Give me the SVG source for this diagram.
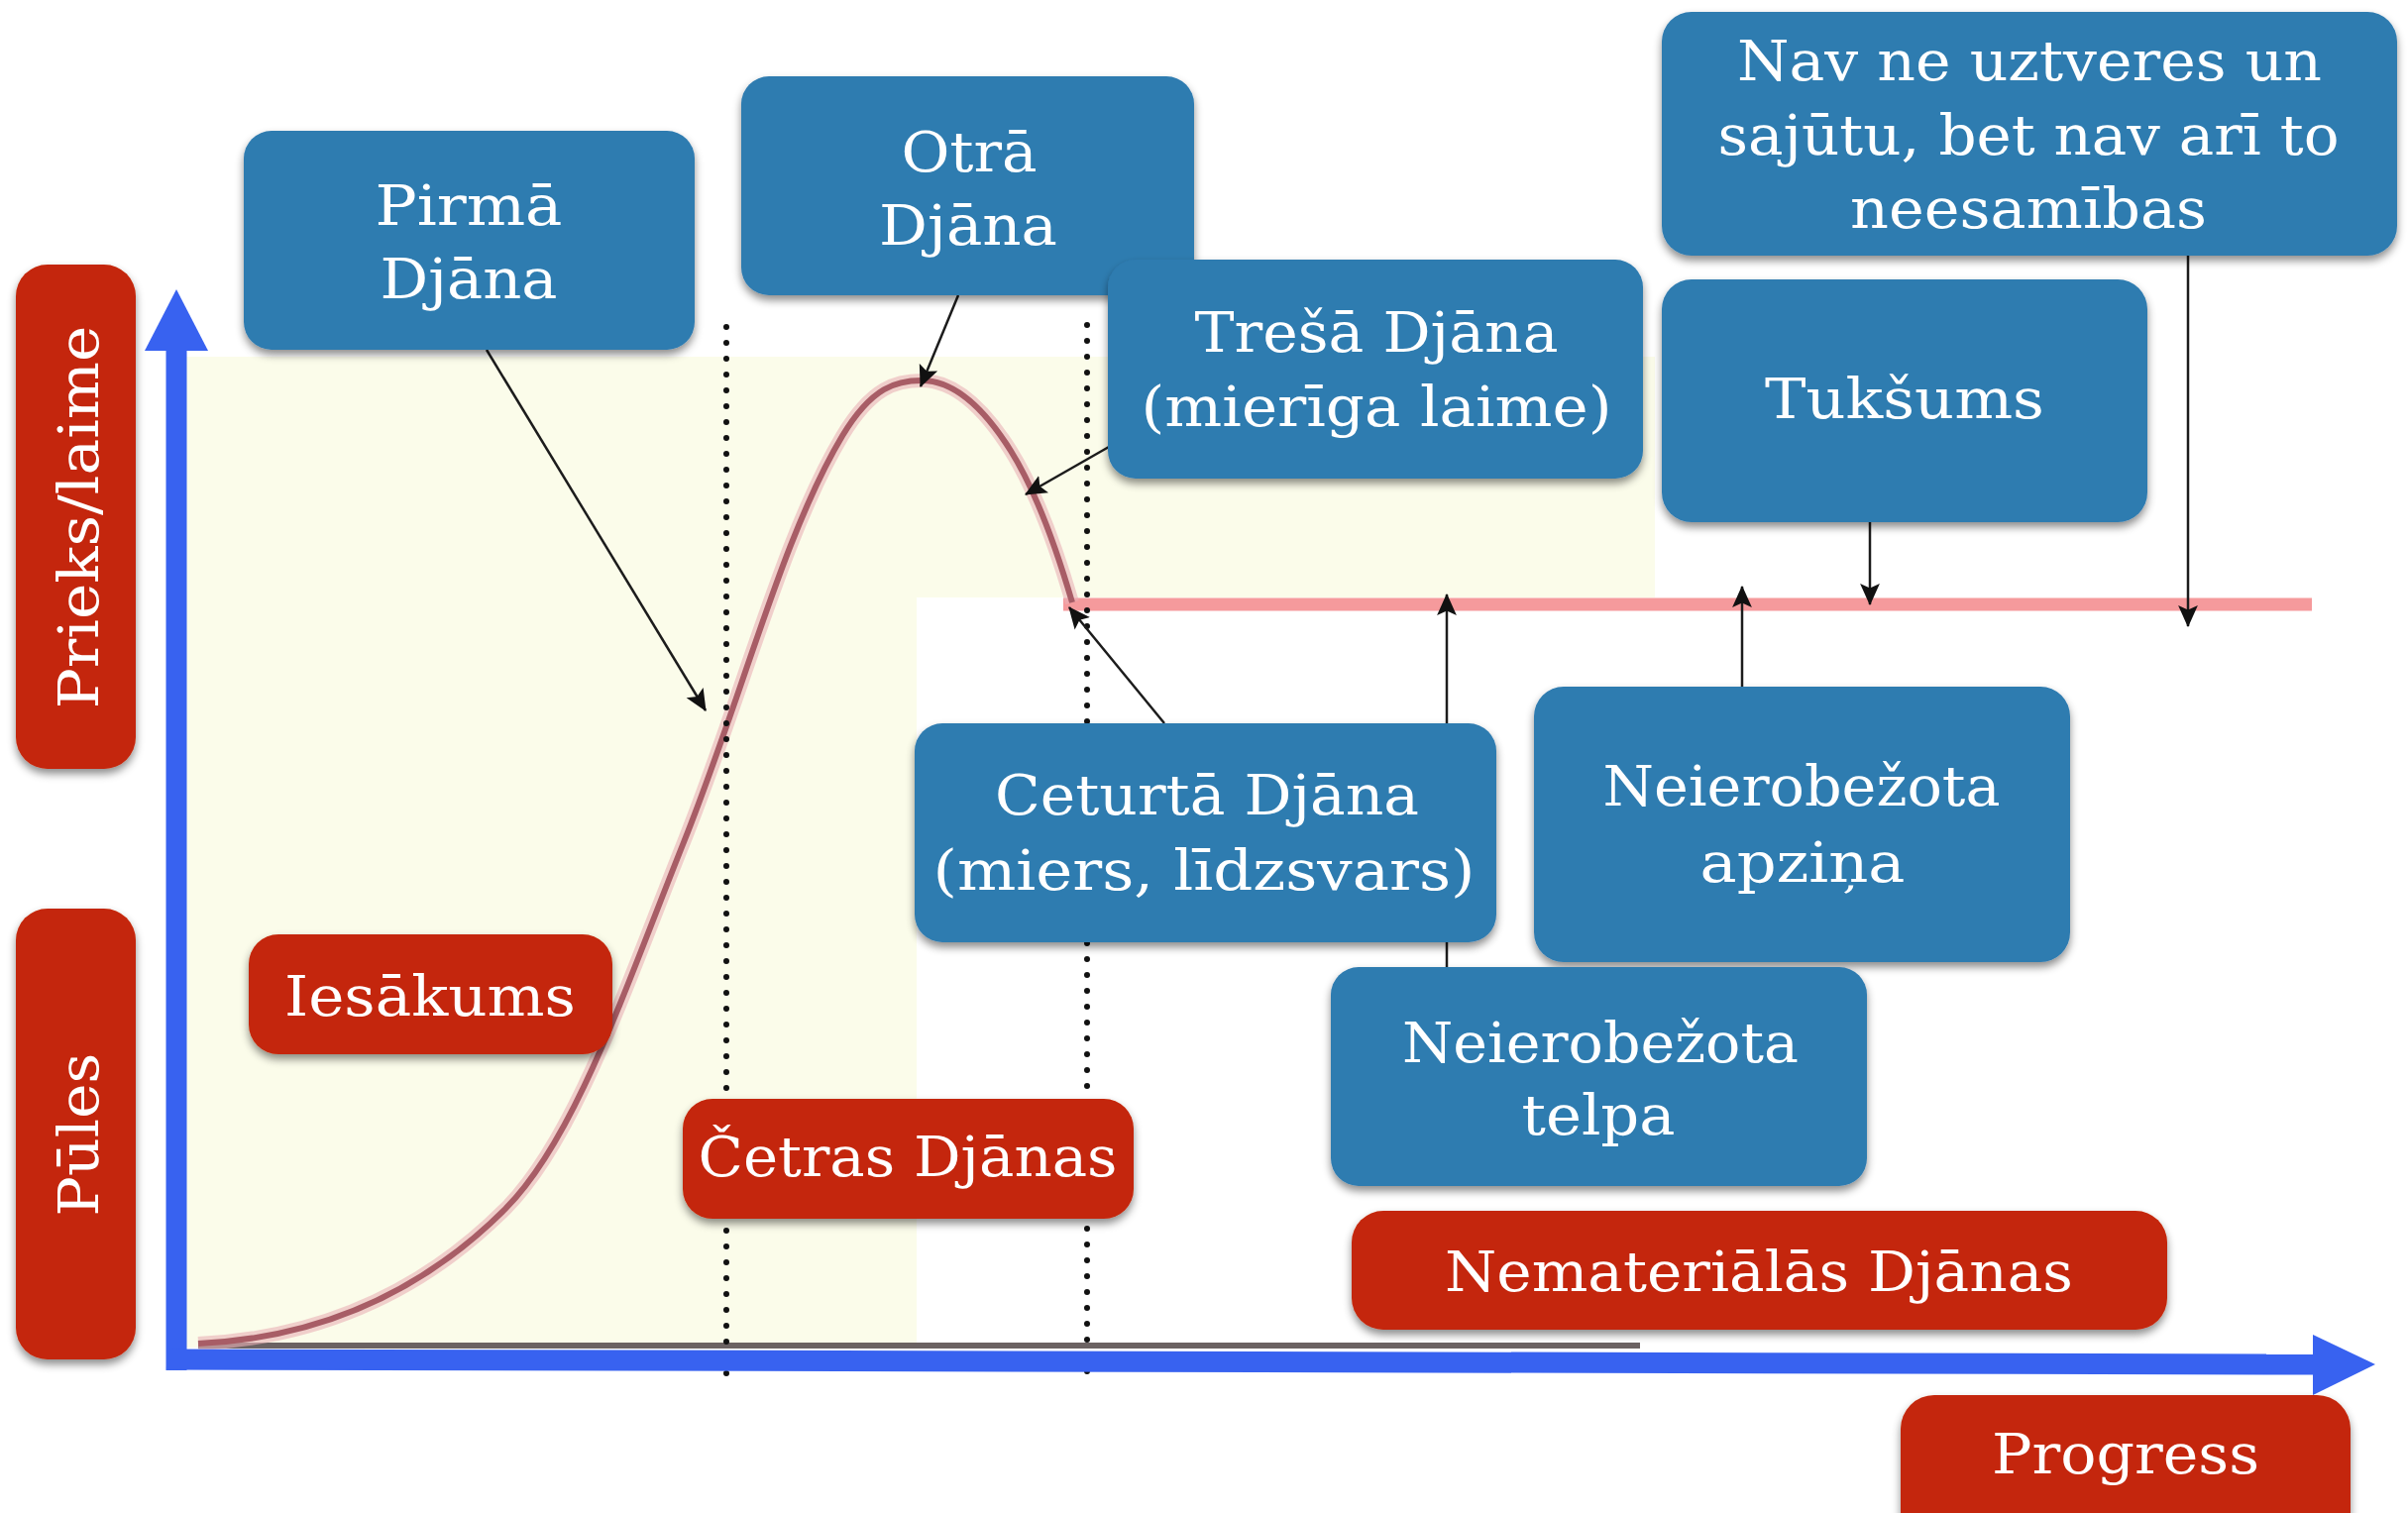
<svg xmlns="http://www.w3.org/2000/svg" width="2430" height="1527" viewBox="0 0 2430 1527">
<defs>
<style>
.blue{fill:#2f7bb0}
.red{fill:#c42608}
.t{font-family:"DejaVu Serif","Liberation Serif",serif;font-size:56px;fill:#ffffff;text-anchor:middle}
.con{stroke:#1c1c1c;stroke-width:2.5;fill:none;marker-end:url(#ah)}
.dots{stroke:#111;stroke-width:6;stroke-linecap:round;stroke-dasharray:0 16;fill:none}
</style>
<marker id="ah" viewBox="0 0 20 20" refX="19" refY="10" markerWidth="22" markerHeight="22" markerUnits="userSpaceOnUse" orient="auto">
<path d="M0,1 L20,10 L0,19 L4,10 Z" fill="#111"/>
</marker>
<filter id="sh" x="-10%" y="-10%" width="120%" height="135%">
<feDropShadow dx="0" dy="5" stdDeviation="4" flood-color="#000" flood-opacity="0.45"/>
</filter>
</defs>
<rect width="2430" height="1527" fill="#ffffff"/>
<g id="background">
<path d="M188,360 H1670 V603 H925 V1360 H188 Z" fill="#fbfcea"/>
</g>
<g id="chart">
<line x1="200" y1="1358" x2="1655" y2="1358" stroke="#6b6262" stroke-width="6"/>
<line x1="1073" y1="610" x2="2333" y2="610" stroke="#f59a9c" stroke-width="13"/>
<path d="M200,1356 C330,1350 430,1300 510,1220 C580,1150 630,1000 690,850 C750,700 790,540 850,440 C880,390 905,384 930,384 C965,384 995,415 1020,455 C1045,495 1065,550 1082,608" fill="none" stroke="#eab0b6" stroke-width="14" stroke-opacity="0.6"/>
<path d="M200,1356 C330,1350 430,1300 510,1220 C580,1150 630,1000 690,850 C750,700 790,540 850,440 C880,390 905,384 930,384 C965,384 995,415 1020,455 C1045,495 1065,550 1082,608" fill="none" stroke="#a85d66" stroke-width="6"/>
<line class="dots" x1="733" y1="330" x2="733" y2="1394"/>
<line class="dots" x1="1097" y1="328" x2="1097" y2="1394"/>
<line x1="178" y1="1383" x2="178" y2="350" stroke="#3862f0" stroke-width="21"/>
<polygon points="146,354 178,292 210,354" fill="#3862f0"/>
<line x1="168" y1="1372" x2="2338" y2="1377" stroke="#3862f0" stroke-width="21"/>
<polygon points="2334,1347 2397,1377 2334,1408" fill="#3862f0"/>
</g>
<g id="connectors">
<line class="con" x1="491" y1="353" x2="712" y2="717"/>
<line class="con" x1="967" y1="298" x2="929" y2="390"/>
<line class="con" x1="1119" y1="451" x2="1035" y2="499"/>
<line class="con" x1="1175" y1="730" x2="1079" y2="613"/>
<line class="con" x1="1460" y1="976" x2="1460" y2="600"/>
<line class="con" x1="1758" y1="693" x2="1758" y2="592"/>
<line class="con" x1="1887" y1="527" x2="1887" y2="610"/>
<line class="con" x1="2208" y1="258" x2="2208" y2="632"/>
</g>
<g id="prieks">
<rect class="red" x="16" y="267" width="121" height="509" rx="32" filter="url(#sh)"/>
<text class="t" transform="translate(99,522) rotate(-90)" textLength="387" lengthAdjust="spacingAndGlyphs">Prieks/laime</text>
</g>
<g id="pules">
<rect class="red" x="16" y="917" width="121" height="455" rx="32" filter="url(#sh)"/>
<text class="t" transform="translate(99,1145) rotate(-90)" textLength="165" lengthAdjust="spacingAndGlyphs">Pūles</text>
</g>
<g id="pirma">
<rect class="blue" x="246" y="132" width="455" height="221" rx="28" filter="url(#sh)"/>
<text class="t" x="473" y="227" textLength="189" lengthAdjust="spacingAndGlyphs">Pirmā</text>
<text class="t" x="473" y="301" textLength="179" lengthAdjust="spacingAndGlyphs">Djāna</text>
</g>
<g id="otra">
<rect class="blue" x="748" y="77" width="457" height="221" rx="28" filter="url(#sh)"/>
<text class="t" x="978" y="173" textLength="137" lengthAdjust="spacingAndGlyphs">Otrā</text>
<text class="t" x="977" y="247" textLength="180" lengthAdjust="spacingAndGlyphs">Djāna</text>
</g>
<g id="tresa">
<rect class="blue" x="1118" y="262" width="540" height="221" rx="28" filter="url(#sh)"/>
<text class="t" x="1389" y="355" textLength="367" lengthAdjust="spacingAndGlyphs">Trešā Djāna</text>
<text class="t" x="1389" y="430" textLength="475" lengthAdjust="spacingAndGlyphs">(mierīga laime)</text>
</g>
<g id="nav">
<rect class="blue" x="1677" y="12" width="742" height="246" rx="30" filter="url(#sh)"/>
<text class="t" x="2048" y="81" textLength="590" lengthAdjust="spacingAndGlyphs">Nav ne uztveres un</text>
<text class="t" x="2047" y="156" textLength="627" lengthAdjust="spacingAndGlyphs">sajūtu, bet nav arī to</text>
<text class="t" x="2047" y="230" textLength="360" lengthAdjust="spacingAndGlyphs">neesamības</text>
</g>
<g id="tuksums">
<rect class="blue" x="1677" y="282" width="490" height="245" rx="30" filter="url(#sh)"/>
<text class="t" x="1922" y="422" textLength="282" lengthAdjust="spacingAndGlyphs">Tukšums</text>
</g>
<g id="ceturta">
<rect class="blue" x="923" y="730" width="587" height="221" rx="28" filter="url(#sh)"/>
<text class="t" x="1218" y="822" textLength="428" lengthAdjust="spacingAndGlyphs">Ceturtā Djāna</text>
<text class="t" x="1215" y="898" textLength="547" lengthAdjust="spacingAndGlyphs">(miers, līdzsvars)</text>
</g>
<g id="apzina">
<rect class="blue" x="1548" y="693" width="541" height="278" rx="30" filter="url(#sh)"/>
<text class="t" x="1818" y="813" textLength="401" lengthAdjust="spacingAndGlyphs">Neierobežota</text>
<text class="t" x="1819" y="890" textLength="207" lengthAdjust="spacingAndGlyphs">apziņa</text>
</g>
<g id="telpa">
<rect class="blue" x="1343" y="976" width="541" height="221" rx="28" filter="url(#sh)"/>
<text class="t" x="1615" y="1072" textLength="400" lengthAdjust="spacingAndGlyphs">Neierobežota</text>
<text class="t" x="1613" y="1145" textLength="155" lengthAdjust="spacingAndGlyphs">telpa</text>
</g>
<g id="iesakums">
<rect class="red" x="251" y="943" width="367" height="121" rx="30" filter="url(#sh)"/>
<text class="t" x="434" y="1025" textLength="294" lengthAdjust="spacingAndGlyphs">Iesākums</text>
</g>
<g id="cetras">
<rect class="red" x="689" y="1109" width="455" height="121" rx="30" filter="url(#sh)"/>
<text class="t" x="916" y="1187" textLength="423" lengthAdjust="spacingAndGlyphs">Četras Djānas</text>
</g>
<g id="nemateriālās">
<rect class="red" x="1364" y="1222" width="823" height="120" rx="32" filter="url(#sh)"/>
<text class="t" x="1775" y="1303" textLength="634" lengthAdjust="spacingAndGlyphs">Nemateriālās Djānas</text>
</g>
<g id="progress">
<rect class="red" x="1918" y="1408" width="454" height="160" rx="34" filter="url(#sh)"/>
<text class="t" x="2145" y="1487" textLength="270" lengthAdjust="spacingAndGlyphs">Progress</text>
</g>
</svg>
